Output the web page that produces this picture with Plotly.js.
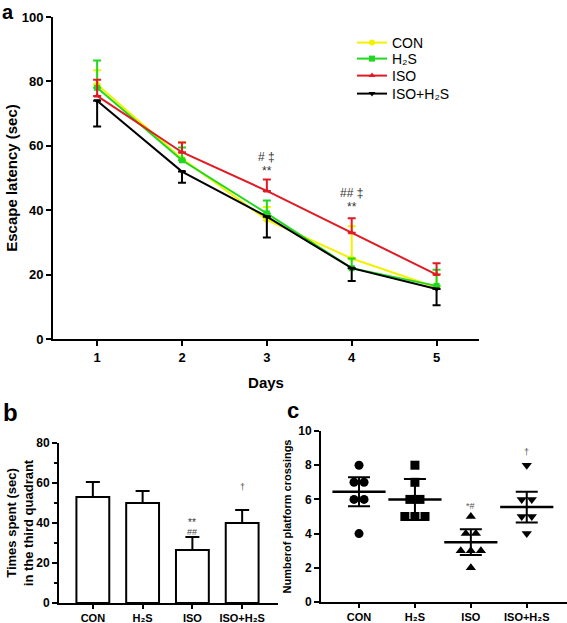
<!DOCTYPE html>
<html>
<head>
<meta charset="utf-8">
<script src="https://cdn.plot.ly/plotly-3.0.1.min.js"></script>
<style>html,body{margin:0;padding:0;background:#fff}#plot{width:567px;height:623px}</style>
</head>
<body>
<div id="plot"></div>
<script>
// ---------- Panel a data ----------
const days = [1, 2, 3, 4, 5];
const conMean = [79, 56, 37, 25, 16];
const conErr = [4.5, 5, 4, 10, 4];
const h2sMean = [78, 55.5, 39, 22, 16.5];
const h2sErr = [8.5, 4, 4, 3, 5];
const isoMean = [75.5, 58, 46, 33, 20];
const isoErr = [5, 3, 3.5, 4.5, 3.5];
const isoh2sMean = [74, 52, 38, 22, 15.5];
const isoh2sErr = [8, 3.5, 6.5, 4, 5];

// ---------- Panel b data ----------
const groups = ["CON", "H₂S", "ISO", "ISO+H₂S"];
const timeMean = [53, 50, 26.5, 40];
const timeErr = [7.5, 6, 6.5, 6.5];

// ---------- Panel c data ----------
const crossCON = [8, 7, 7, 6, 6, 4];
const crossH2S = [8, 7, 6, 6, 5, 5, 5];
const crossISO = [5, 4, 4, 3, 3, 3, 2];
const crossISOH2S = [8, 6, 6, 5, 5, 4];
const crossMean = [6.45, 6.0, 3.5, 5.55];
const crossSem = [0.85, 1.2, 0.75, 0.9];

const FONT = "Liberation Sans, Arial, sans-serif";
const W = 567, H = 623;
const px = v => v / W;
const py = v => 1 - v / H;

function zeros(n){ return new Array(n).fill(0); }

function lineTrace(name, y, err, color, symbol, up, legendId) {
  return {
    type: "scatter", mode: "lines+markers", name: name, legend: legendId,
    x: days, y: y, xaxis: "x", yaxis: "y",
    line: {color: color, width: 2},
    marker: {color: color, symbol: symbol, size: 6},
    error_y: {type: "data", symmetric: false,
      array: up ? err : zeros(err.length),
      arrayminus: up ? zeros(err.length) : err,
      color: color, thickness: 2, width: 4}
  };
}

// beeswarm offsets computed from duplicates
function swarm(vals, center, step) {
  const xs = [];
  const counts = {};
  vals.forEach(v => counts[v] = (counts[v] || 0) + 1);
  const seen = {};
  vals.forEach(v => {
    const n = counts[v];
    const i = seen[v] || 0;
    seen[v] = i + 1;
    xs.push(center + (i - (n - 1) / 2) * step);
  });
  return xs;
}

const data = [
  lineTrace("CON", conMean, conErr, "#f2f200", "circle", true, "legend"),
  lineTrace("H₂S", h2sMean, h2sErr, "#1fd81f", "square", true, "legend2"),
  lineTrace("ISO", isoMean, isoErr, "#e01b24", "triangle-up", true, "legend3"),
  lineTrace("ISO+H₂S", isoh2sMean, isoh2sErr, "#000000", "triangle-down", false, "legend4"),
  {
    type: "bar", x: [0, 1, 2, 3], y: timeMean, xaxis: "x2", yaxis: "y2",
    width: 0.66, showlegend: false,
    marker: {color: "#ffffff", line: {color: "#000", width: 2}},
    error_y: {type: "data", symmetric: false, array: timeErr, arrayminus: zeros(4),
      color: "#000", thickness: 2, width: 7}
  }
];

const crossSets = [crossCON, crossH2S, crossISO, crossISOH2S];
const crossSyms = ["circle", "square", "triangle-up", "triangle-down"];
crossSets.forEach((vals, i) => {
  data.push({
    type: "scatter", mode: "markers", x: swarm(vals, i, 0.18), y: vals,
    xaxis: "x3", yaxis: "y3", showlegend: false,
    marker: {color: "#000", symbol: crossSyms[i], size: 9}
  });
});
data.push({
  type: "scatter", mode: "markers", x: [0, 1, 2, 3], y: crossMean,
  xaxis: "x3", yaxis: "y3", showlegend: false,
  marker: {symbol: "line-ew", size: 38, color: "#000", line: {color: "#000", width: 2.5}},
  error_y: {type: "data", array: crossSem, color: "#000", thickness: 2, width: 11}
});

const axBase = {
  showline: true, linecolor: "#000", linewidth: 2, ticks: "outside",
  ticklen: 5, tickwidth: 2, tickcolor: "#000", showgrid: false, zeroline: false,
  tickfont: {family: FONT, size: 13, color: "#000", weight: "bold"}
};

const ann = [];
function txt(t, x, y, xref, yref, size, color, opts) {
  ann.push(Object.assign({text: t, x: x, y: y, xref: xref, yref: yref, showarrow: false,
    font: {family: FONT, size: size, color: color || "#000"}}, opts || {}));
}
txt("<b>a</b>", px(1), 1, "paper", "paper", 20, "#000", {xanchor: "left", yanchor: "top", borderpad: 0});
txt("<b>b</b>", px(1), py(412), "paper", "paper", 24, "#000", {xanchor: "left", yanchor: "middle"});
txt("<b>c</b>", px(285), py(410), "paper", "paper", 22, "#000", {xanchor: "left", yanchor: "middle"});
// significance marks
txt("# ‡", 3, 56.5, "x", "y", 12, "#333");
txt("**", 3, 52.2, "x", "y", 12, "#333");
txt("## ‡", 4, 45.3, "x", "y", 12, "#333");
txt("**", 4, 41, "x", "y", 12, "#333");
txt("**", 2, 40.5, "x2", "y2", 10, "#333");
txt("##", 2, 35.5, "x2", "y2", 9, "#444");
txt("†", 3, 58, "x2", "y2", 9, "#555");
txt("*#", 2, 5.6, "x3", "y3", 9, "#555");
txt("†", 3, 8.8, "x3", "y3", 9, "#555");

function leg(yPix) {
  return {x: px(352), y: py(yPix), xanchor: "left", yanchor: "middle",
    font: {family: FONT, size: 14, color: "#000"}, bgcolor: "rgba(0,0,0,0)",
    itemwidth: 30, borderwidth: 0};
}

const layout = {
  width: W, height: H, margin: {l: 0, r: 0, t: 0, b: 0},
  paper_bgcolor: "#fff", plot_bgcolor: "rgba(0,0,0,0)",
  font: {family: FONT, color: "#000"},
  showlegend: true,
  legend: leg(43), legend2: leg(59), legend3: leg(76), legend4: leg(94),
  xaxis: Object.assign({}, axBase, {
    domain: [px(53), px(479)], anchor: "y", range: [0.48, 5.5],
    tickvals: days, ticktext: days.map(String),
    title: {text: "Days", standoff: 14, font: {family: FONT, size: 15, weight: "bold", color: "#000"}}
  }),
  yaxis: Object.assign({}, axBase, {
    domain: [py(339), py(17)], anchor: "x", range: [0, 100], dtick: 20,
    title: {text: "Escape latency (sec)", standoff: 0, font: {family: FONT, size: 15, weight: "bold", color: "#000"}}
  }),
  xaxis2: Object.assign({}, axBase, {
    domain: [px(59), px(278)], anchor: "y2", range: [-0.68, 3.72],
    tickvals: [0, 1, 2, 3], ticktext: groups, ticklen: 4,
    tickfont: {family: FONT, size: 11, color: "#000", weight: "bold"}
  }),
  yaxis2: Object.assign({}, axBase, {
    domain: [py(603), py(443)], anchor: "x2", range: [0, 80], dtick: 20, ticklen: 5,
    minor: {dtick: 10, ticks: "outside", ticklen: 3, tickwidth: 1.5, tickcolor: "#000"},
    tickfont: {family: FONT, size: 12, color: "#000", weight: "bold"},
    title: {text: "Times spent (sec)<br>in the third quadrant", standoff: 0,
      font: {family: FONT, size: 13, weight: "bold", color: "#000"}}
  }),
  xaxis3: Object.assign({}, axBase, {
    domain: [px(321), 1], anchor: "y3", range: [-0.68, 3.72],
    tickvals: [0, 1, 2, 3], ticktext: groups, ticklen: 4,
    tickfont: {family: FONT, size: 11, color: "#000", weight: "bold"}
  }),
  yaxis3: Object.assign({}, axBase, {
    domain: [py(602), py(431)], anchor: "x3", range: [0, 10], dtick: 2, ticklen: 5,
    tickfont: {family: FONT, size: 12, color: "#000", weight: "bold"},
    title: {text: "Numberof platform crossings", standoff: 4,
      font: {family: FONT, size: 11, weight: "bold", color: "#000"}}
  }),
  annotations: ann
};

Plotly.newPlot("plot", data, layout, {staticPlot: true, displayModeBar: false});
</script>
</body>
</html>
